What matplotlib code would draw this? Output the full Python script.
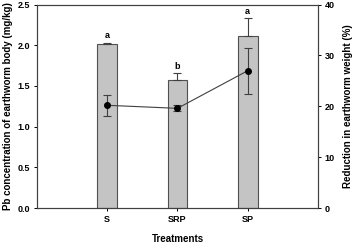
import numpy as np
import matplotlib.pyplot as plt

treatments = ["S", "SRP", "SP"]
pb_conc = [2.01, 1.57, 2.12]
pb_err = [0.02, 0.09, 0.21]
letters = ["a", "b", "a"]
weight_red = [20.2, 19.6, 27.0]
weight_err = [2.1, 0.6, 4.5]

plt.rcParams["font.family"] = ["Liberation Sans", "DejaVu Sans"]
plt.rcParams["font.weight"] = "bold"

fig = plt.figure(figsize=(3.56, 2.43), dpi=100)
ax = fig.add_axes([0.104, 0.144, 0.789, 0.837])
x = np.arange(len(treatments))

ax.bar(x, pb_conc, width=0.28, color="#c4c4c4", edgecolor="#505050", lw=0.8, zorder=2)
ax.errorbar(x, pb_conc, yerr=[np.zeros(3), pb_err], fmt="none", ecolor="#404040",
            elinewidth=0.8, capsize=3, capthick=0.8, zorder=3)
for xi, v, e, lab in zip(x, pb_conc, pb_err, letters):
    ax.text(xi, v + e + 0.03, lab, ha="center", va="bottom", fontsize=6.5, fontweight="bold")

ax.set_xlim(-1, 3)
ax.set_ylim(0, 2.5)
ax.set_xticks(x)
ax.set_xticklabels(treatments, fontsize=6.5, fontweight="bold")
ax.set_yticks(np.arange(0, 2.6, 0.5))
ax.set_yticklabels([f"{v:.1f}" for v in np.arange(0, 2.6, 0.5)], fontsize=6.5, fontweight="bold")
ax.tick_params(length=2.5, width=0.7, pad=2.5)
ax.set_xlabel("Treatments", fontsize=7, fontweight="bold", labelpad=7)
ax.set_ylabel("Pb concentration of earthworm body (mg/kg)", fontsize=7, fontweight="bold", labelpad=3)
for s in ax.spines.values():
    s.set_linewidth(0.8)
    s.set_color("#404040")

ax2 = ax.twinx()
ax2.errorbar(x, weight_red, yerr=weight_err, fmt="-o", color="#404040", ms=4, lw=0.8,
             mfc="black", mec="black", ecolor="#404040", elinewidth=0.8, capsize=3,
             capthick=0.8, zorder=4)
ax2.set_ylim(0, 40)
ax2.set_yticks([0, 10, 20, 30, 40])
ax2.set_yticklabels(["0", "10", "20", "30", "40"], fontsize=6.5, fontweight="bold")
ax2.tick_params(length=2.5, width=0.7, pad=2.5)
ax2.set_ylabel("Reduction in earthworm weight (%)", fontsize=7, fontweight="bold", labelpad=6)
for s in ax2.spines.values():
    s.set_linewidth(0.8)
    s.set_color("#404040")

fig.savefig("out.png", dpi=100)
